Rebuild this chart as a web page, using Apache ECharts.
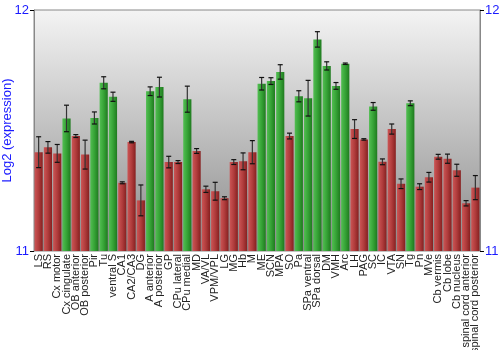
<!DOCTYPE html>
<html>
<head>
<meta charset="utf-8">
<script src="https://cdn.jsdelivr.net/npm/echarts@6/dist/echarts.min.js"></script>
<style>
  html, body { margin: 0; padding: 0; background: #fff; }
  #chart { width: 500px; height: 350px; }
</style>
</head>
<body>
<div id="chart"></div>
<script>
// Brain regions along the x axis
const regions = [
  'LS', 'RS', 'Cx motor', 'Cx cingulate', 'OB anterior', 'OB posterior', 'Pir', 'Tu',
  'ventral S', 'CA1', 'CA2/CA3', 'DG', 'A anterior', 'A posterior', 'GP', 'CPu lateral',
  'CPu medial', 'MD', 'VA/VL', 'VPM/VPL', 'LG', 'MG', 'Hb', 'M',
  'ME', 'SCN', 'MPA', 'SO', 'Pa', 'SPa ventral', 'SPa dorsal', 'DM',
  'VMH', 'Arc', 'LH', 'PAG', 'SC', 'IC', 'VTA', 'SN',
  'Tg', 'Pn', 'MVe', 'Cb vermis', 'Cb lobe', 'Cb nucleus', 'spinal cord anterior', 'spinal cord posterior'
];

// Mean log2 expression per region
const expression = [
  11.41, 11.43, 11.405, 11.55, 11.477, 11.40, 11.552, 11.698,
  11.64, 11.283, 11.452, 11.21, 11.663, 11.68, 11.369, 11.369,
  11.63, 11.415, 11.256, 11.248, 11.219, 11.369, 11.372, 11.41,
  11.694, 11.705, 11.743, 11.477, 11.642, 11.634, 11.878, 11.768,
  11.685, 11.777, 11.506, 11.463, 11.60, 11.37, 11.506, 11.279,
  11.613, 11.267, 11.306, 11.391, 11.383, 11.335, 11.198, 11.263
];

// Standard error per region
const stdError = [
  0.064, 0.024, 0.037, 0.055, 0.006, 0.060, 0.025, 0.025,
  0.019, 0.004, 0.003, 0.064, 0.018, 0.041, 0.024, 0.006,
  0.054, 0.010, 0.013, 0.037, 0.006, 0.010, 0.035, 0.048,
  0.026, 0.014, 0.030, 0.012, 0.023, 0.074, 0.032, 0.017,
  0.014, 0.003, 0.039, 0.003, 0.016, 0.012, 0.021, 0.020,
  0.010, 0.012, 0.020, 0.010, 0.019, 0.025, 0.011, 0.050
];

// Regions flagged as high expression (1) vs. the rest (0)
const highFlag = [
  0, 0, 0, 1, 0, 0, 1, 1,
  1, 0, 0, 0, 1, 1, 0, 0,
  1, 0, 0, 0, 0, 0, 0, 0,
  1, 1, 1, 0, 1, 1, 1, 1,
  1, 1, 0, 0, 1, 0, 0, 0,
  1, 0, 0, 0, 0, 0, 0, 0
];

// Y axis range and tick labels
const yMin = 11;
const yMax = 12;
const yStep = 1;

function barGradient(high) {
  const stops = high
    ? [['#52be52', 0], ['#36a336', 0.5], ['#1f7a1f', 1]]
    : [['#cc5555', 0], ['#b03c3c', 0.5], ['#862020', 1]];
  return new echarts.graphic.LinearGradient(0, 0, 1, 0,
    stops.map(s => ({ offset: s[1], color: s[0] })));
}

const barData = expression.map((v, i) => ({
  value: v,
  itemStyle: { color: barGradient(highFlag[i] === 1) }
}));

const errData = expression.map((v, i) => [i, v - stdError[i], v + stdError[i]]);

const chart = echarts.init(document.getElementById('chart'), null, { renderer: 'canvas' });

const blue = '#1a1aff';
const font = 'Liberation Sans, Arial, sans-serif';

chart.setOption({
  animation: false,
  grid: {
    left: 34, right: 20, top: 10, bottom: 99,
    outerBoundsMode: 'none',
    containLabel: false,
    show: true,
    borderColor: '#888',
    borderWidth: 1,
    backgroundColor: new echarts.graphic.LinearGradient(0, 0, 0, 1, [
      { offset: 0, color: '#f4f4f4' },
      { offset: 0.5, color: '#c0c0c0' },
      { offset: 1, color: '#8a8a8a' }
    ])
  },
  xAxis: {
    type: 'category',
    data: regions,
    axisLine: { show: false },
    axisTick: { show: false },
    axisLabel: {
      rotate: 90,
      interval: 0,
      margin: 3,
      fontFamily: font,
      fontSize: 11,
      color: '#222'
    }
  },
  yAxis: [
    {
      type: 'value',
      min: yMin, max: yMax, interval: yStep,
      name: 'Log2 (expression)',
      nameLocation: 'middle',
      nameGap: 20,
      nameMoveOverlap: false,
      nameTextStyle: { color: blue, fontSize: 13, fontFamily: font },
      axisLine: { show: true, lineStyle: { color: '#888' } },
      axisTick: { show: true, length: 4, lineStyle: { color: '#000' } },
      splitLine: { show: false },
      axisLabel: { color: blue, fontSize: 13, margin: 5, fontFamily: font }
    },
    {
      type: 'value',
      position: 'right',
      min: yMin, max: yMax, interval: yStep,
      axisLine: { show: true, lineStyle: { color: '#888' } },
      axisTick: { show: true, length: 4, lineStyle: { color: '#000' } },
      splitLine: { show: false },
      axisLabel: { color: blue, fontSize: 13, margin: 5, fontFamily: font }
    }
  ],
  series: [
    {
      type: 'bar',
      data: barData,
      barCategoryGap: '12%',
      z: 2
    },
    {
      type: 'custom',
      data: errData,
      z: 3,
      renderItem: function (params, api) {
        const x = api.value(0);
        const lo = api.coord([x, api.value(1)]);
        const hi = api.coord([x, api.value(2)]);
        const cap = 2.5;
        const style = { stroke: '#111', lineWidth: 1.2 };
        return {
          type: 'group',
          children: [
            { type: 'line', shape: { x1: hi[0], y1: hi[1], x2: lo[0], y2: lo[1] }, style: { stroke: '#333', lineWidth: 1.2 } },
            { type: 'line', shape: { x1: hi[0] - cap, y1: hi[1], x2: hi[0] + cap, y2: hi[1] }, style: style },
            { type: 'line', shape: { x1: lo[0] - cap, y1: lo[1], x2: lo[0] + cap, y2: lo[1] }, style: style }
          ]
        };
      }
    }
  ]
});
</script>
</body>
</html>
